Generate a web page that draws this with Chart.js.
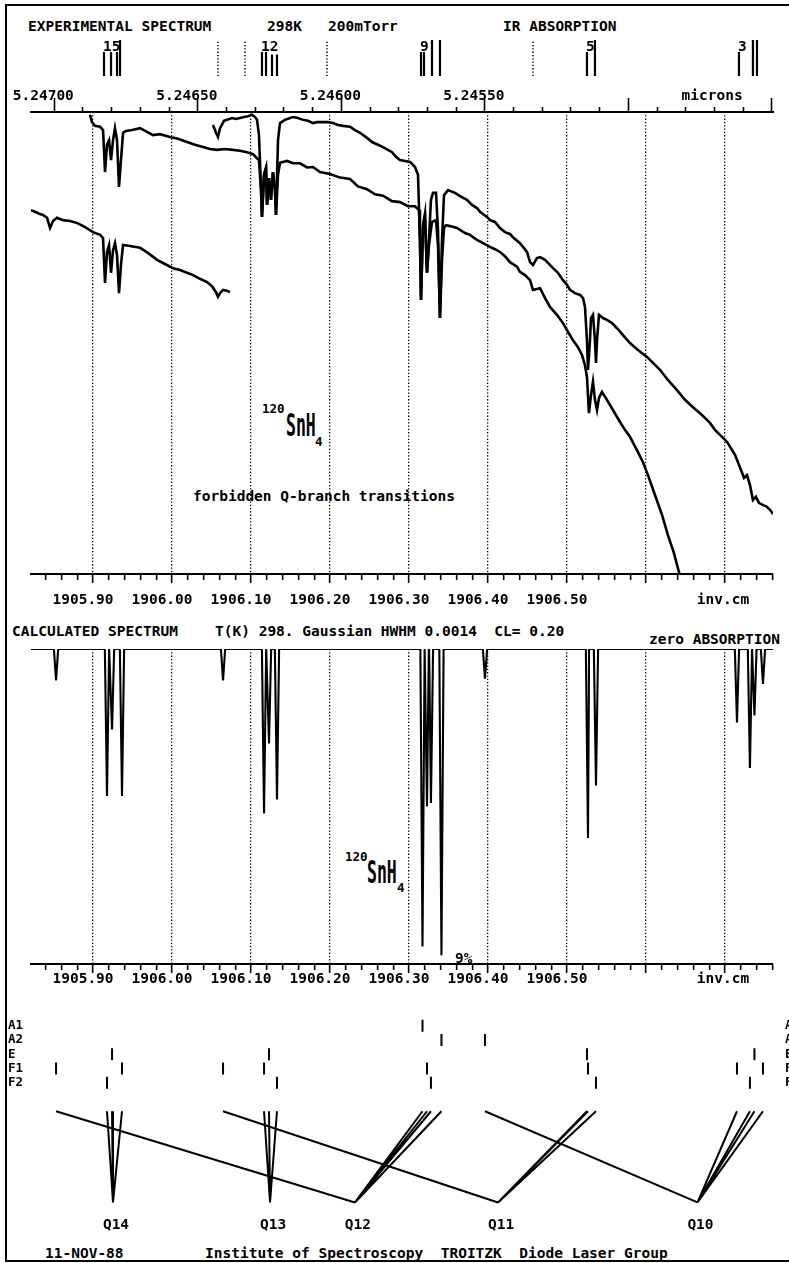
<!DOCTYPE html>
<html lang="en">
<head>
<meta charset="UTF-8" />
<title>120SnH4 forbidden Q-branch transitions</title>
<script src="https://cdn.jsdelivr.net/npm/chart.js"></script>
<style>
  body { margin: 0; background: #fff; }
  #page { position: relative; width: 789px; height: 1263px; overflow: hidden; background: #fff;
          font-family: "DejaVu Sans Mono", monospace; font-weight: bold; color: #000; }
  #frame { position: absolute; left: 5px; top: 4px; width: 800px; height: 1254px;
           border-left: 2px solid #000; border-top: 2px solid #000; border-bottom: 2px solid #000; }
  canvas { position: absolute; left: 0; }
  .t { position: absolute; white-space: pre; font-size: 14.5px; line-height: 14.5px; }
  .sm { position: absolute; font-size: 12.5px; line-height: 12.5px; }
  .tall { position: absolute; font-size: 16.5px; line-height: 16.5px; transform: scaleY(1.91); transform-origin: 0 0; }
</style>
</head>
<body>
<div id="page">
  <div id="frame"></div>

  <div class="t" style="left:28px;top:18.7px">EXPERIMENTAL SPECTRUM</div>
  <div class="t" style="left:267px;top:18.7px">298K</div>
  <div class="t" style="left:328px;top:18.7px">200mTorr</div>
  <div class="t" style="left:503px;top:18.7px">IR ABSORPTION</div>

  <div class="sm" style="left:262px;top:403.4px">120</div>
  <div class="tall" style="left:286px;top:411.3px">SnH</div>
  <div class="sm" style="left:315px;top:436.4px">4</div>
  <div class="t" style="left:193px;top:488.7px">forbidden Q-branch transitions</div>

  <div class="t" style="left:12px;top:623.7px">CALCULATED SPECTRUM</div>
  <div class="t" style="left:215px;top:623.7px">T(K) 298. Gaussian HWHM 0.0014  CL= 0.20</div>
  <div class="t" style="left:649px;top:631.7px">zero ABSORPTION</div>

  <div class="sm" style="left:345px;top:851.4px">120</div>
  <div class="tall" style="left:367px;top:858.3px">SnH</div>
  <div class="sm" style="left:397px;top:882.4px">4</div>

  <div class="t" style="left:45px;top:1245.7px">11-NOV-88</div>
  <div class="t" style="left:205px;top:1245.7px">Institute of Spectroscopy  TROITZK  Diode Laser Group</div>

  <canvas id="cMarks" width="789" height="44" style="top:36px"></canvas>
  <canvas id="cExp" width="789" height="545" style="top:80px"></canvas>
  <canvas id="cCalc" width="789" height="360" style="top:640px"></canvas>
  <canvas id="cSym" width="789" height="263" style="top:1000px"></canvas>
</div>

<script>
  // wavenumber window shared by every panel (cm-1)
  var nuMin = 1905.8215;
  var nuMax = 1906.7608;

  // bottom scales: labelled ticks and where the unit name sits
  var nuLabelVals = [1905.9, 1906.0, 1906.1, 1906.2, 1906.3, 1906.4, 1906.5];
  var nuUnitVal = 1906.7101;
  // micron scale on top
  var micLabelVals = [5.247, 5.2465, 5.246, 5.2455];
  var micUnitVal = 5.24467;

  // experimental scans: wavenumber (cm-1) and detector signal (arb. units, 0-100)
  var expA_nu = [1905.8962, 1905.8987, 1905.9025, 1905.9089, 1905.9127, 1905.9152, 1905.9177, 1905.9203, 1905.9228, 1905.9253,
    1905.9278, 1905.9304, 1905.9329, 1905.9354, 1905.9380, 1905.9418, 1905.9494, 1905.9595, 1905.9684, 1905.9759,
    1905.9848, 1905.9975, 1906.0076, 1906.0190, 1906.0291, 1906.0392, 1906.0481, 1906.0570, 1906.0671, 1906.0772,
    1906.0861, 1906.0949, 1906.1025, 1906.1076, 1906.1101, 1906.1127, 1906.1139, 1906.1165, 1906.1190, 1906.1203,
    1906.1228, 1906.1253, 1906.1278, 1906.1304, 1906.1316, 1906.1342, 1906.1367, 1906.1456, 1906.1532, 1906.1620,
    1906.1709, 1906.1785, 1906.1873, 1906.2000, 1906.2127, 1906.2253, 1906.2354, 1906.2468, 1906.2570, 1906.2671,
    1906.2785, 1906.2886, 1906.2987, 1906.3076, 1906.3127, 1906.3139, 1906.3152, 1906.3177, 1906.3203, 1906.3228,
    1906.3253, 1906.3291, 1906.3342, 1906.3367, 1906.3392, 1906.3418, 1906.3443, 1906.3468, 1906.3519, 1906.3608,
    1906.3709, 1906.3772, 1906.3861, 1906.3937, 1906.4025, 1906.4089, 1906.4152, 1906.4215, 1906.4278, 1906.4367,
    1906.4405, 1906.4468, 1906.4532, 1906.4570, 1906.4620, 1906.4658, 1906.4722, 1906.4785, 1906.4873, 1906.4949,
    1906.5013, 1906.5076, 1906.5139, 1906.5190, 1906.5228, 1906.5253, 1906.5278, 1906.5304, 1906.5329, 1906.5354,
    1906.5380, 1906.5405, 1906.5443, 1906.5506, 1906.5582, 1906.5671, 1906.5734, 1906.5797, 1906.5886, 1906.5962,
    1906.6025, 1906.6114, 1906.6203, 1906.6278, 1906.6354, 1906.6430];
  var expA_sig = [99.4, 97.8, 97.0, 96.8, 96.1, 87.0, 92.9, 93.9, 89.6, 93.9,
    96.5, 93.9, 83.8, 89.6, 95.5, 95.9, 96.1, 96.5, 95.7, 95.0,
    95.2, 94.6, 94.2, 93.5, 92.9, 92.4, 92.0, 91.8, 92.0, 91.8,
    91.6, 91.3, 90.9, 90.0, 89.6, 83.1, 77.3, 86.4, 87.9, 79.9,
    85.7, 81.0, 87.0, 83.1, 77.7, 86.4, 89.0, 89.4, 88.9, 88.9,
    88.0, 88.1, 87.0, 86.6, 85.8, 85.5, 83.9, 83.3, 82.2, 81.9,
    80.7, 80.5, 79.6, 79.6, 78.8, 72.3, 59.3, 74.5, 76.6, 65.2,
    71.2, 76.2, 76.6, 71.2, 55.4, 68.0, 74.9, 75.5, 75.3, 74.9,
    73.8, 73.4, 72.3, 71.6, 70.8, 70.3, 69.7, 68.8, 67.5, 66.5,
    65.4, 64.7, 63.6, 61.5, 61.7, 61.9, 59.7, 57.8, 56.1, 54.3,
    52.4, 50.6, 49.1, 47.4, 45.2, 42.6, 34.8, 38.7, 41.6, 37.7,
    35.5, 38.1, 39.4, 37.7, 35.5, 32.9, 31.2, 29.7, 26.8, 24.2,
    21.4, 17.1, 12.8, 8.4, 4.5, -0.4];

  var expB_nu = [1906.0519, 1906.0557, 1906.0582, 1906.0608, 1906.0658, 1906.0696, 1906.0759, 1906.0810, 1906.0861, 1906.0911,
    1906.0962, 1906.1013, 1906.1051, 1906.1076, 1906.1101, 1906.1127, 1906.1139, 1906.1165, 1906.1190, 1906.1203,
    1906.1228, 1906.1253, 1906.1278, 1906.1304, 1906.1316, 1906.1342, 1906.1367, 1906.1430, 1906.1494, 1906.1532,
    1906.1595, 1906.1658, 1906.1722, 1906.1785, 1906.1835, 1906.1899, 1906.1975, 1906.2038, 1906.2101, 1906.2165,
    1906.2253, 1906.2316, 1906.2380, 1906.2468, 1906.2532, 1906.2608, 1906.2671, 1906.2734, 1906.2785, 1906.2835,
    1906.2886, 1906.2949, 1906.3013, 1906.3076, 1906.3114, 1906.3139, 1906.3152, 1906.3177, 1906.3203, 1906.3228,
    1906.3253, 1906.3278, 1906.3304, 1906.3342, 1906.3367, 1906.3392, 1906.3418, 1906.3443, 1906.3494, 1906.3582,
    1906.3646, 1906.3734, 1906.3797, 1906.3861, 1906.3899, 1906.3987, 1906.4025, 1906.4089, 1906.4152, 1906.4215,
    1906.4278, 1906.4316, 1906.4405, 1906.4494, 1906.4532, 1906.4570, 1906.4620, 1906.4658, 1906.4722, 1906.4823,
    1906.4886, 1906.4949, 1906.5000, 1906.5038, 1906.5101, 1906.5165, 1906.5203, 1906.5228, 1906.5253, 1906.5266,
    1906.5291, 1906.5304, 1906.5329, 1906.5354, 1906.5367, 1906.5380, 1906.5405, 1906.5456, 1906.5506, 1906.5570,
    1906.5633, 1906.5709, 1906.5797, 1906.5899, 1906.6013, 1906.6089, 1906.6177, 1906.6278, 1906.6392, 1906.6494,
    1906.6595, 1906.6709, 1906.6810, 1906.6873, 1906.6937, 1906.7025, 1906.7127, 1906.7203, 1906.7241, 1906.7278,
    1906.7316, 1906.7354, 1906.7392, 1906.7430, 1906.7481, 1906.7519, 1906.7570, 1906.7608];
  var expB_sig = [97.2, 95.5, 94.6, 96.5, 98.1, 98.3, 98.7, 98.5, 98.7, 98.9,
    99.1, 99.4, 98.9, 98.3, 95.0, 83.1, 77.3, 86.4, 87.9, 79.9,
    85.7, 81.0, 87.0, 83.1, 77.7, 93.9, 97.6, 98.3, 98.7, 98.9,
    98.7, 98.3, 98.1, 97.6, 97.8, 97.8, 97.8, 97.6, 97.2, 97.0,
    96.8, 96.1, 95.5, 94.4, 93.5, 92.9, 92.4, 91.8, 91.3, 90.3,
    89.6, 89.4, 89.2, 88.1, 86.4, 72.3, 59.3, 75.5, 78.1, 65.2,
    72.3, 81.0, 82.5, 82.5, 74.5, 55.4, 72.3, 82.0, 83.1, 82.5,
    81.8, 81.0, 79.9, 79.2, 78.4, 77.3, 76.6, 76.2, 74.9, 74.0,
    73.6, 72.9, 71.6, 69.7, 67.5, 66.9, 68.4, 68.6, 68.0, 66.2,
    65.2, 63.6, 62.6, 61.5, 60.8, 60.4, 59.7, 57.8, 50.6, 44.2,
    50.6, 55.4, 56.1, 50.6, 45.7, 50.6, 56.1, 55.4, 55.0, 54.3,
    53.2, 51.7, 50.0, 48.5, 47.0, 45.7, 44.2, 42.0, 39.8, 37.7,
    36.1, 34.4, 32.7, 31.2, 30.1, 28.6, 25.8, 22.5, 20.8, 21.4,
    19.3, 16.0, 16.7, 15.4, 14.9, 14.7, 13.9, 13.0];

  var expC_nu = [1905.8203, 1905.8266, 1905.8329, 1905.8367, 1905.8418, 1905.8456, 1905.8494, 1905.8544, 1905.8620, 1905.8709,
    1905.8797, 1905.8899, 1905.9000, 1905.9089, 1905.9127, 1905.9152, 1905.9177, 1905.9203, 1905.9228, 1905.9253,
    1905.9278, 1905.9304, 1905.9329, 1905.9354, 1905.9380, 1905.9468, 1905.9595, 1905.9696, 1905.9810, 1905.9911,
    1906.0013, 1906.0101, 1906.0190, 1906.0266, 1906.0354, 1906.0443, 1906.0506, 1906.0557, 1906.0582, 1906.0608,
    1906.0646, 1906.0696, 1906.0734];
  var expC_sig = [78.8, 78.4, 77.9, 77.7, 77.1, 74.9, 76.4, 77.1, 76.6, 76.4,
    76.0, 75.1, 74.0, 73.4, 72.7, 63.0, 69.7, 71.2, 65.2, 70.1,
    71.6, 69.0, 60.8, 66.9, 71.2, 71.0, 70.6, 69.5, 68.0, 67.1,
    66.2, 65.8, 65.2, 64.7, 63.9, 63.2, 62.3, 61.0, 60.0, 60.8,
    61.5, 61.3, 61.0];

  // line markers above the micron scale (length 1 = full strip)
  var markNu = [1905.9139, 1905.9228, 1905.9304, 1905.9342, 1906.1139, 1906.1190, 1906.1266, 1906.1329,
    1906.3152, 1906.3190, 1906.3291, 1906.3392, 1906.5253, 1906.5354, 1906.7177, 1906.7354, 1906.7405];
  var markLen = [0.67, 0.67, 0.67, 1, 0.67, 0.67, 0.6, 0.6, 0.67, 0.67, 1, 1, 0.67, 1, 0.67, 1, 1];
  var markDotNu = [1906.0582, 1906.0924, 1906.1962, 1906.4570];
  var markTag = ['15', '12', '9', '5', '3'];
  var markTagNu = [1905.9139, 1906.1139, 1906.3152, 1906.5253, 1906.7177];

  // calculated Q-branch components: position, depth (% absorption), symmetry, J
  var lineNu = [1905.8532, 1905.9177, 1905.9241, 1905.9367, 1906.0646, 1906.1165, 1906.1228, 1906.1329,
    1906.3171, 1906.3228, 1906.3278, 1906.3411, 1906.3962, 1906.5253, 1906.5266, 1906.5367,
    1906.7152, 1906.7316, 1906.7373, 1906.7481];
  var lineDepth = [0.9, 4.2, 2.3, 4.2, 0.9, 4.7, 2.7, 4.3, 8.5, 4.5, 4.4, 8.75, 0.85, 2.8, 5.4, 3.9, 2.1, 3.4, 1.9, 1.0];
  var lineSym = ['F1', 'F2', 'E', 'F1', 'F1', 'F1', 'E', 'F2', 'A1', 'F1', 'F2', 'A2', 'A2', 'E', 'F1', 'F2', 'F1', 'F2', 'E', 'F1'];
  var lineJ = [12, 14, 14, 14, 11, 13, 13, 13, 12, 12, 12, 12, 10, 11, 11, 11, 10, 10, 10, 10];
  var lineHalfWidth = 0.0027;
  var calcMax = 9;
  var pctNu = 1906.3582;

  // Q(J) convergence points and symmetry rows
  var qJ = [14, 13, 12, 11, 10];
  var qNu = [1905.9253, 1906.1241, 1906.2316, 1906.4127, 1906.6652];
  var symNames = ['A1', 'A2', 'E', 'F1', 'F2'];
  var fanTop = 7;
  var apexLevel = 13.4;

  var micMin = 1e4 / nuMax;
  var micMax = 1e4 / nuMin;

  Chart.defaults.font.family = "'DejaVu Sans Mono', monospace";
  Chart.defaults.font.weight = 'bold';
  Chart.defaults.font.size = 14.5;
  Chart.defaults.color = '#000';

  function pts(xs, ys) {
    return xs.map(function (x, i) { return { x: x, y: ys[i] }; });
  }
  function near(a, b) { return Math.abs(a - b) < 1e-6; }
  function isNuMajor(v) { return Math.abs(v * 10 - Math.round(v * 10)) < 1e-4; }
  function isMicMajor(v) { return Math.abs(v * 2000 - Math.round(v * 2000)) < 1e-3; }

  function nuTickLabel(v) {
    if (near(v, nuUnitVal)) return 'inv.cm';
    for (var i = 0; i < nuLabelVals.length; i++) {
      if (near(v, nuLabelVals[i])) return v.toFixed(2);
    }
    return '';
  }
  function micTickLabel(v) {
    if (Math.abs(v - micUnitVal) < 1e-8) return 'microns';
    for (var i = 0; i < micLabelVals.length; i++) {
      if (Math.abs(v - micLabelVals[i]) < 1e-8) return v.toFixed(5);
    }
    return '';
  }

  // the unit name rides on an extra, unmarked tick
  function addUnitTick(val) {
    return function (axis) { axis.ticks.push({ value: val }); };
  }

  function nuAxis(pad, height) {
    return {
      type: 'linear', position: 'bottom', min: nuMin, max: nuMax,
      afterBuildTicks: addUnitTick(nuUnitVal),
      ticks: {
        stepSize: 0.02, includeBounds: false, autoSkip: false, maxRotation: 0, minRotation: 0,
        labelOffset: -10, padding: pad, color: '#000', callback: nuTickLabel
      },
      grid: {
        color: function (c) { return c.tick && isNuMajor(c.tick.value) ? '#000' : 'rgba(0,0,0,0)'; },
        lineWidth: 1.3, tickColor: '#000', tickWidth: 1.6, tickLength: 9,
        tickBorderDash: function (c) {
          if (!c.tick) return [];
          if (near(c.tick.value, nuUnitVal)) return [0, 100];
          return isNuMajor(c.tick.value) ? [] : [5, 50];
        }
      },
      border: { color: '#000', width: 2, dash: [1.3, 2] },
      afterFit: function (s) { s.height = height; }
    };
  }

  var baseOpts = {
    responsive: false, animation: false, devicePixelRatio: 1, events: [],
    plugins: { legend: { display: false }, tooltip: { enabled: false } },
    elements: { point: { radius: 0 }, line: { borderColor: '#000', tension: 0 } }
  };
  function opts(extra) { return Object.assign({}, baseOpts, extra); }

  // tags above the marker groups
  var tagPlugin = {
    id: 'tags',
    afterDatasetsDraw: function (chart) {
      var ctx = chart.ctx, xs = chart.scales.x;
      ctx.save();
      ctx.font = "bold 14.5px 'DejaVu Sans Mono'";
      ctx.fillStyle = '#000';
      ctx.textBaseline = 'alphabetic';
      markTag.forEach(function (t, i) {
        ctx.fillText(t, xs.getPixelForValue(markTagNu[i]) - 1, chart.chartArea.top + 11);
      });
      ctx.restore();
    }
  };

  // full-scale note on the calculated panel
  var pctPlugin = {
    id: 'pct',
    afterDraw: function (chart) {
      var ctx = chart.ctx;
      ctx.save();
      ctx.font = "bold 14.5px 'DejaVu Sans Mono'";
      ctx.fillStyle = '#000';
      ctx.fillText(calcMax + '%', chart.scales.x.getPixelForValue(pctNu), chart.scales.y.getPixelForValue(calcMax) - 1);
      ctx.restore();
    }
  };

  // marker strip
  var markPts = [];
  markNu.forEach(function (nu, i) {
    markPts.push({ x: nu, y: 0 }, { x: nu, y: markLen[i] }, { x: nu, y: null });
  });
  var dotPts = [];
  markDotNu.forEach(function (nu) {
    dotPts.push({ x: nu, y: 0 }, { x: nu, y: 1 }, { x: nu, y: null });
  });

  new Chart(document.getElementById('cMarks'), {
    type: 'scatter',
    data: {
      datasets: [
        { data: markPts, showLine: true, borderColor: '#000', borderWidth: 2.2, pointRadius: 0 },
        { data: dotPts, showLine: true, borderColor: '#000', borderWidth: 1.5, borderDash: [1.3, 2], pointRadius: 0 }
      ]
    },
    options: opts({
      layout: { padding: { left: 31, right: 16, top: 4, bottom: 4 } },
      scales: {
        x: { type: 'linear', min: nuMin, max: nuMax, display: false },
        y: { min: 0, max: 1, display: false }
      }
    }),
    plugins: [tagPlugin]
  });

  // experimental spectrum
  new Chart(document.getElementById('cExp'), {
    type: 'scatter',
    data: {
      datasets: [
        { data: pts(expA_nu, expA_sig), showLine: true, borderColor: '#000', borderWidth: 2.6, pointRadius: 0 },
        { data: pts(expB_nu, expB_sig), showLine: true, borderColor: '#000', borderWidth: 2.6, pointRadius: 0 },
        { data: pts(expC_nu, expC_sig), showLine: true, borderColor: '#000', borderWidth: 2.6, pointRadius: 0 }
      ]
    },
    options: opts({
      layout: { padding: { left: 31, right: 16, top: 0, bottom: 6 } },
      scales: {
        x: nuAxis(9, 45),
        mic: {
          type: 'linear', axis: 'x', position: 'top', reverse: true, min: micMin, max: micMax,
          afterBuildTicks: addUnitTick(micUnitVal),
          ticks: {
            stepSize: 0.0001, includeBounds: false, autoSkip: false, maxRotation: 0, minRotation: 0,
            labelOffset: -11, padding: -7, color: '#000', callback: micTickLabel
          },
          grid: {
            drawOnChartArea: false, tickColor: '#000', tickWidth: 1.6, tickLength: 14,
            tickBorderDash: function (c) {
              if (!c.tick) return [];
              if (Math.abs(c.tick.value - micUnitVal) < 1e-8) return [0, 100];
              return isMicMajor(c.tick.value) ? [] : [0, 9, 6, 50];
            }
          },
          border: { color: '#000', width: 2 },
          afterFit: function (s) { s.height = 32; }
        },
        y: { min: 0, max: 100, display: false }
      }
    })
  });

  // calculated spectrum: each component drawn as a narrow dip from the zero line
  var calcPts = [{ x: nuMin, y: 0 }, { x: nuMax, y: 0 }];
  lineNu.forEach(function (nu, i) {
    calcPts.push({ x: nu - lineHalfWidth, y: 0 }, { x: nu, y: lineDepth[i] }, { x: nu + lineHalfWidth, y: 0 });
  });
  calcPts.sort(function (a, b) { return a.x - b.x; });

  new Chart(document.getElementById('cCalc'), {
    type: 'scatter',
    data: {
      datasets: [
        { data: calcPts, showLine: true, borderColor: '#000', borderWidth: 2.1, pointRadius: 0 }
      ]
    },
    options: opts({
      layout: { padding: { left: 31, right: 16, top: 9, bottom: 2 } },
      scales: {
        x: nuAxis(-2, 34),
        y: { min: 0, max: calcMax, reverse: true, display: false }
      }
    }),
    plugins: [pctPlugin]
  });

  // symmetry rows and Q(J) fans
  var symPts = lineNu.map(function (nu, i) {
    return { x: nu, y: symNames.indexOf(lineSym[i]) + 1 };
  });
  var fanPts = [];
  lineNu.forEach(function (nu, i) {
    var k = qJ.indexOf(lineJ[i]);
    fanPts.push({ x: nu, y: fanTop }, { x: qNu[k], y: apexLevel }, { x: qNu[k], y: null });
  });
  var rowTicks = function (axis) {
    axis.ticks = symNames.map(function (s, i) { return { value: i + 1 }; });
  };

  new Chart(document.getElementById('cSym'), {
    type: 'scatter',
    data: {
      datasets: [
        { data: symPts, showLine: false, pointStyle: 'line', pointRotation: 90, pointRadius: 6,
          pointBorderColor: '#000', pointBorderWidth: 2 },
        { data: fanPts, showLine: true, borderColor: '#000', borderWidth: 2, pointRadius: 0 }
      ]
    },
    options: opts({
      layout: { padding: { left: 8, right: 0, top: 1, bottom: 22 } },
      scales: {
        x: {
          type: 'linear', position: 'bottom', min: nuMin, max: nuMax,
          afterBuildTicks: function (axis) {
            axis.ticks = qNu.map(function (v) { return { value: v }; });
          },
          ticks: {
            autoSkip: false, maxRotation: 0, minRotation: 0, labelOffset: 3, padding: -2, color: '#000',
            callback: function (v, i) { return 'Q' + qJ[i]; }
          },
          grid: { display: false },
          border: { display: false },
          afterFit: function (s) { s.height = 30; }
        },
        y: {
          position: 'left', min: 0, max: 14, reverse: true,
          afterBuildTicks: rowTicks,
          ticks: {
            crossAlign: 'far', padding: 0, color: '#000', font: { size: 12.5 },
            callback: function (v) { return symNames[v - 1]; }
          },
          grid: { display: false },
          border: { display: false },
          afterFit: function (s) { s.width = 23; }
        },
        yr: {
          axis: 'y', position: 'right', min: 0, max: 14, reverse: true,
          afterBuildTicks: rowTicks,
          ticks: {
            padding: 4, color: '#000', font: { size: 12.5 },
            callback: function (v) { return symNames[v - 1]; }
          },
          grid: { display: false },
          border: { display: false },
          afterFit: function (s) { s.width = 16; }
        }
      }
    })
  });
</script>
</body>
</html>
